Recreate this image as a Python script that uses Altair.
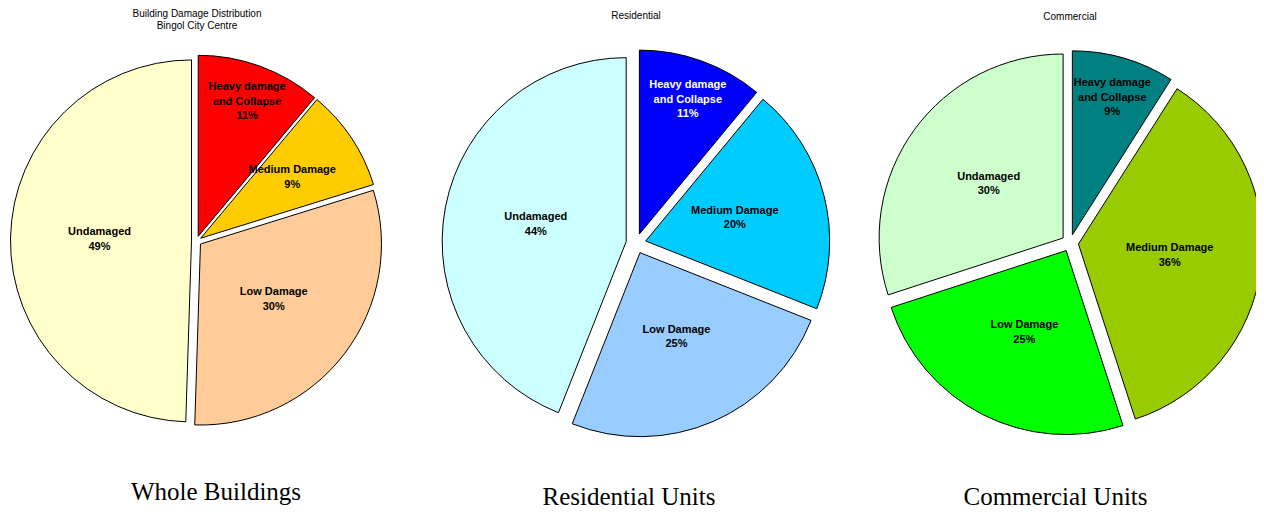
import altair as alt
import pandas as pd

# ---- data ----
categories = ["Heavy damage and Collapse", "Medium Damage", "Low Damage", "Undamaged"]
slice_labels = ["Heavy damage\nand Collapse", "Medium Damage", "Low Damage", "Undamaged"]

whole_values = [11, 9, 30, 49]
residential_values = [11, 20, 25, 44]
commercial_values = [9, 36, 25, 30]

whole_colors = ["#FF0000", "#FFCC00", "#FFCC99", "#FFFFCC"]
residential_colors = ["#0000FF", "#00CCFF", "#99CCFF", "#CCFFFF"]
commercial_colors = ["#008080", "#99CC00", "#00FF00", "#CCFFCC"]

top_titles = ["Building Damage Distribution\nBingol City Centre", "Residential", "Commercial"]
captions = ["Whole Buildings", "Residential Units", "Commercial Units"]

LABEL_FONT = "Liberation Sans"
LINE_H = 14.5


def make_pie(values, colors, cx, cy, R, e, first_label_color):
    df = pd.DataFrame({
        "order": list(range(len(categories))),
        "category": categories,
        "label": slice_labels,
        "value": values,
    })
    base = (
        alt.Chart(df)
        .transform_joinaggregate(total="sum(value)")
        .transform_window(cum="sum(value)", sort=[alt.SortField("order")])
        .transform_calculate(
            t0="2*PI*(datum.cum - datum.value)/datum.total",
            t1="2*PI*datum.cum/datum.total",
        )
        .transform_calculate(mid="(datum.t0 + datum.t1)/2")
        .transform_calculate(
            px=f"{cx} + {e}*sin(datum.mid)",
            py=f"{cy} - {e}*cos(datum.mid)",
            lr="datum.order == 0 ? 143 : (datum.value/datum.total < 0.1 ? 110 : 92)",
            txt="datum.label + '\\n' + datum.value + '%'",
        )
        .transform_calculate(nl="split(datum.txt, '\\n').length")
        .transform_calculate(
            lx="datum.px + datum.lr*sin(datum.mid)",
            ly=f"datum.py - datum.lr*cos(datum.mid) - (datum.nl - 1)*{LINE_H}/2",
        )
    )
    arcs = base.mark_arc(outerRadius=R, stroke="black", strokeWidth=1).encode(
        theta=alt.Theta("t0:Q", scale=None, stack=False),
        theta2="t1:Q",
        x=alt.X("px:Q", scale=None, axis=None),
        y=alt.Y("py:Q", scale=None, axis=None),
        color=alt.Color("category:N", scale=alt.Scale(domain=categories, range=colors), legend=None),
    )
    labels = base.mark_text(
        font=LABEL_FONT, fontSize=11, fontWeight="bold", lineBreak="\n",
        lineHeight=LINE_H, align="center", baseline="middle",
    ).encode(
        x=alt.X("lx:Q", scale=None, axis=None),
        y=alt.Y("ly:Q", scale=None, axis=None),
        text="txt:N",
        fill=alt.condition("datum.order == 0", alt.value(first_label_color), alt.value("black")),
    )
    return alt.layer(arcs, labels)


def text_chart(txt, x, y, size, font, line_height=None):
    kw = dict(font=font, fontSize=size, align="center", baseline="middle", lineBreak="\n", color="black")
    if line_height is not None:
        kw["lineHeight"] = line_height
    return alt.Chart(pd.DataFrame({"t": [txt]})).mark_text(**kw).encode(
        text="t:N", x=alt.value(x), y=alt.value(y)
    )


pie1 = make_pie(whole_values, whole_colors, 188.5, 233, 181, 5, "black")
pie2 = make_pie(residential_values, residential_colors, 628, 235.5, 184, 10, "white")
pie3 = make_pie(commercial_values, commercial_colors, 1062, 235, 184, 8.5, "black")

t1 = text_chart(top_titles[0], 189, 5.5, 10, LABEL_FONT, 12.5)
t2 = text_chart(top_titles[1], 628, 7.5, 10, LABEL_FONT)
t3 = text_chart(top_titles[2], 1062, 8.5, 10, LABEL_FONT)
c1 = text_chart(captions[0], 208, 484, 25, "Liberation Serif")
c2 = text_chart(captions[1], 621, 489, 25, "Liberation Serif")
c3 = text_chart(captions[2], 1047.5, 489, 25, "Liberation Serif")

chart = (
    alt.layer(pie1, pie2, pie3, t1, t2, t3, c1, c2, c3)
    .resolve_scale(color="independent")
    .properties(width=1248, height=505, padding=0, autosize=alt.AutoSizeParams(type="none"))
    .configure_view(stroke=None)
)

chart.save("out.html", embed_options={"renderer": "svg", "actions": False})
